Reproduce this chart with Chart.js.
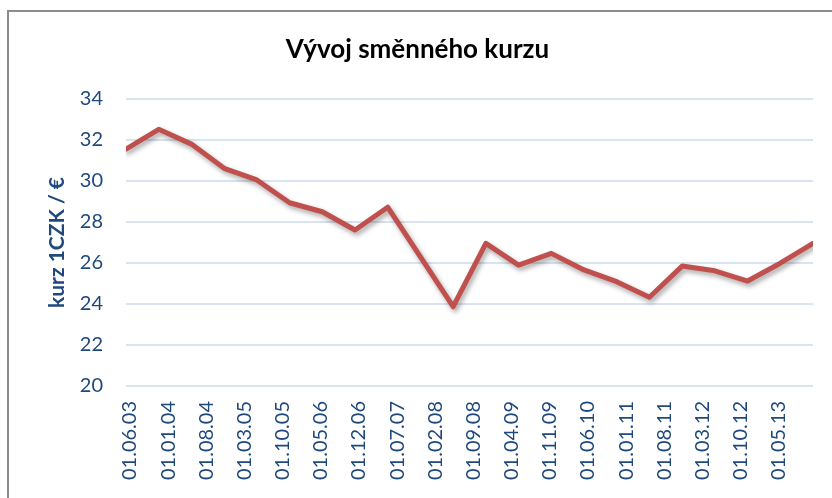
<!DOCTYPE html>
<html>
<head>
<meta charset="utf-8">
<script src="https://cdn.jsdelivr.net/npm/chart.js@4.4.1/dist/chart.umd.min.js"></script>
<style>
  html, body { margin: 0; padding: 0; background: #ffffff; }
  #wrap { width: 832px; height: 498px; position: relative; }
</style>
</head>
<body>
<div id="wrap"><canvas id="c" width="832" height="498"></canvas></div>
<script>
// ---- data ----
const chartTitle = 'Vývoj směnného kurzu';
const yAxisTitle = 'kurz 1CZK / €';
const dates = ['2003-06','2003-12','2004-06','2004-12','2005-06','2005-12','2006-06','2006-12',
               '2007-06','2007-12','2008-06','2008-12','2009-06','2009-12','2010-06','2010-12',
               '2011-06','2011-12','2012-06','2012-12','2013-06','2013-12'];
const rates = [31.55, 32.52, 31.8, 30.62, 30.05, 28.94, 28.5, 27.61,
               28.72, 26.3, 23.87, 26.96, 25.9, 26.47, 25.66, 25.09,
               24.33, 25.85, 25.62, 25.12, 25.99, 26.96];
const tickLabels = ['01.06.03','01.01.04','01.08.04','01.03.05','01.10.05','01.05.06',
                    '01.12.06','01.07.07','01.02.08','01.09.08','01.04.09','01.11.09',
                    '01.06.10','01.01.11','01.08.11','01.03.12','01.10.12','01.05.13'];
const yMin = 20, yMax = 34, yStep = 2;

// ---- helpers: months since first date ----
const start = dates[0].split('-').map(Number);
function monthsFromYM(y, m) { return (y - start[0]) * 12 + (m - start[1]); }
const points = dates.map((d, i) => {
  const [y, m] = d.split('-').map(Number);
  return { x: monthsFromYM(y, m), y: rates[i] };
});
const tickMonths = tickLabels.map(t => {
  const p = t.split('.').map(Number);
  return monthsFromYM(2000 + p[2], p[1]);
});
const xMax = points[points.length - 1].x;

const textBlue = '#1F497D';
const gridBlue = '#D9E4F2';

const frame = {
  id: 'frame',
  beforeDraw(chart) {
    const ctx = chart.ctx;
    ctx.save();
    ctx.fillStyle = '#ffffff';
    ctx.fillRect(0, 0, chart.width, chart.height);
    ctx.fillStyle = '#8c8c8c';
    ctx.fillRect(7, 10, chart.width - 7, 2);
    ctx.fillRect(7, 10, 2, chart.height - 10);
    ctx.restore();
  }
};
const shadow = {
  id: 'shadow',
  beforeDatasetDraw(chart) {
    const ctx = chart.ctx;
    ctx.save();
    ctx.shadowColor = 'rgba(0,0,0,0.35)';
    ctx.shadowBlur = 5;
    ctx.shadowOffsetX = 2;
    ctx.shadowOffsetY = 3;
  },
  afterDatasetDraw(chart) { chart.ctx.restore(); }
};

new Chart(document.getElementById('c'), {
  type: 'line',
  data: {
    datasets: [{
      data: points,
      borderColor: '#C0504D',
      borderWidth: 5,
      pointRadius: 0,
      tension: 0,
      borderJoinStyle: 'round',
      borderCapStyle: 'round',
      fill: false
    }]
  },
  options: {
    responsive: false,
    animation: false,
    layout: { padding: { left: 22, right: 19, top: 10, bottom: 0 } },
    plugins: {
      legend: { display: false },
      tooltip: { enabled: false },
      title: {
        display: true,
        text: chartTitle,
        color: '#000000',
        font: { family: 'Lato', size: 26, weight: 'bold' },
        padding: { top: 24.4, bottom: 33.4 }
      }
    },
    scales: {
      x: {
        type: 'linear',
        min: 0,
        max: xMax,
        afterFit(s) { s.height = 112; },
        afterBuildTicks(s) { s.ticks = tickMonths.map(v => ({ value: v })); },
        grid: { display: false, drawTicks: false },
        border: { display: false },
        ticks: {
          autoSkip: false,
          minRotation: 90,
          maxRotation: 90,
          padding: 15,
          labelOffset: 4,
          color: textBlue,
          font: { family: 'Lato', size: 20 },
          callback(v, i) { return tickLabels[i]; }
        }
      },
      y: {
        min: yMin,
        max: yMax,
        afterFit(s) { s.width = 104; },
        grid: { color: gridBlue, lineWidth: 2, drawTicks: false },
        border: { display: false },
        ticks: {
          stepSize: yStep,
          padding: 23,
          color: textBlue,
          font: { family: 'Lato', size: 20 }
        },
        title: {
          display: true,
          text: yAxisTitle,
          color: textBlue,
          font: { family: 'Lato', size: 21, weight: 'bold' },
          padding: { top: 22.4, bottom: 0 }
        }
      }
    }
  },
  plugins: [frame, shadow]
});
</script>
</body>
</html>
